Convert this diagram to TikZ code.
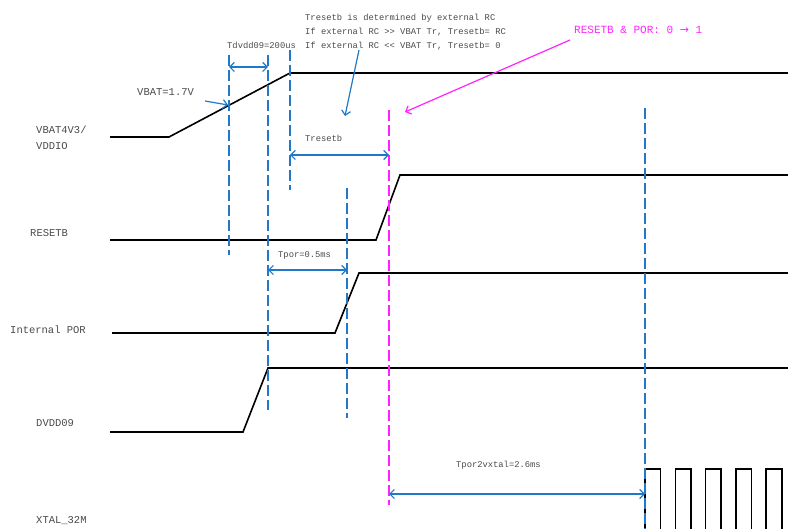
\documentclass[tikz,border=0pt]{standalone}
\usepackage{fontspec}
\setmonofont{Liberation Mono}
\newfontfamily\symfont{DejaVu Sans}
\usetikzlibrary{arrows.meta, positioning}
\definecolor{dimblue}{HTML}{1F78C8}
\definecolor{porpink}{HTML}{FF22FF}
\definecolor{labelgray}{HTML}{4A4A4A}

\tikzset{
    barb/.tip={Straight Barb[length=4.5pt, width=9pt]},
    wave/.style={line width=1.6pt, black},
    guide/.style={dimblue, line width=1.2pt, dash pattern=on 11pt off 4pt},
    markline/.style={porpink, line width=1.2pt, dash pattern=on 11pt off 4pt},
    dim/.style={dimblue, line width=1.2pt, {barb}-{barb}},
    sig/.style={font=\ttfamily\fontsize{10.5}{16}\selectfont, text=labelgray, anchor=west, inner sep=0pt, align=left},
    note/.style={font=\ttfamily\fontsize{8.8}{14}\selectfont, text=labelgray, anchor=west, inner sep=0pt, align=left},
}

\begin{document}
\begin{tikzpicture}[x=1pt, y=-1pt]
    \useasboundingbox (0,0) rectangle (788,529);

    % signal names
    \node[sig] (vbat) at (36,138) {VBAT4V3/\\VDDIO};
    \node[sig] (rst) at (30,233) {RESETB};
    \node[sig] (por) at (10,330) {Internal POR};
    \node[sig] (dvdd) at (36,423) {DVDD09};
    \node[sig] (xtal) at (36,521) {XTAL\_32M};

    % waveforms
    \draw[wave] (110,137) -- (169,137) -- (290,73) -- (788,73);
    \draw[wave] (110,240) -- (376,240) -- (400,175) -- (788,175);
    \draw[wave] (112,333) -- (335,333) -- (359,273) -- (788,273);
    \draw[wave] (110,432) -- (243,432) -- (268,368) -- (788,368);
    \foreach \k in {0,...,4} {
        \pgfmathsetmacro{\rise}{645+30.3*\k}
        \pgfmathsetmacro{\fall}{\rise+15.5}
        \draw[wave] (\rise,529) -- (\rise,469) -- (\fall,469) -- (\fall,529);
    }

    % timing guides
    \coordinate (g1t) at (229,55);  \coordinate (g1b) at (229,255);
    \coordinate (g2t) at (268,55);  \coordinate (g2b) at (268,410);
    \coordinate (g3t) at (290,50);  \coordinate (g3b) at (290,190);
    \coordinate (g4t) at (347,188); \coordinate (g4b) at (347,418);
    \coordinate (g5t) at (645,108); \coordinate (g5b) at (645,529);
    \coordinate (m1t) at (389,110); \coordinate (m1b) at (389,505);
    \draw[guide] (g1t) -- (g1b);
    \draw[guide] (g2t) -- (g2b);
    \draw[guide] (g3t) -- (g3b);
    \draw[guide] (g4t) -- (g4b);
    \draw[guide] (g5t) -- (g5b);
    \draw[markline] (m1t) -- (m1b);

    % dimensions
    \draw[dim] (229,67) -- (268,67);
    \draw[dim] (290,155) -- (389,155);
    \draw[dim] (268,270) -- (347,270);
    \draw[dim] (389,494) -- (645,494);
    \node[note] (tdv) at (227,45) {Tdvdd09=200us};
    \node[note] (trs) at (305,138) {Tresetb};
    \node[note] (tpor) at (278,255) {Tpor=0.5ms};
    \node[note] (tp2x) at (456,465) {Tpor2vxtal=2.6ms};

    % callouts
    \node[sig] (lvl) at (137,92) {VBAT=1.7V};
    \coordinate (cross) at (228,105);
    \draw[dimblue, line width=1.2pt, -{barb}] (205,101) -- (cross);
    \node[note] (rc) at (305,32) {Tresetb is determined by external RC\\If external RC >> VBAT Tr, Tresetb= RC\\If external RC << VBAT Tr, Tresetb= 0};
    \coordinate (rcend) at (345,116);
    \draw[dimblue, line width=1.2pt, -{barb}] (359,50) -- (rcend);
    \node[sig, text=porpink, font=\ttfamily\fontsize{11}{13}\selectfont] (edge) at (574,30) {RESETB \& POR: 0 {\symfont →} 1};
    \coordinate (edgeend) at (405,112);
    \draw[porpink, line width=1.2pt, -{barb}] (570,40) -- (edgeend);
\end{tikzpicture}
\end{document}
